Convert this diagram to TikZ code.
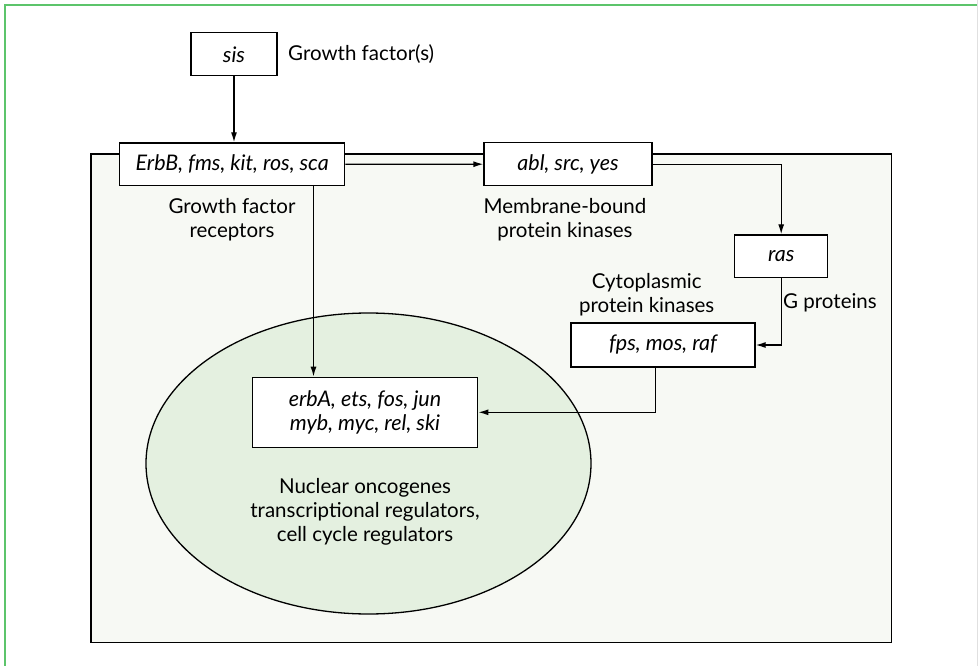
\documentclass[tikz,border=0pt]{standalone}
\usepackage{fontspec}
\setmainfont{Lato}
\usetikzlibrary{shapes.geometric,arrows.meta}
\definecolor{framegreen}{HTML}{5CC46B}
\definecolor{cellfill}{HTML}{F7F9F4}
\definecolor{nucfill}{HTML}{E4F0E0}
\tikzset{
  gene/.style={draw=black,fill=white,line width=1.3pt,inner sep=0pt,font=\fontsize{21.5}{24}\selectfont\itshape,align=center},
  lbl/.style={inner sep=0pt,font=\fontsize{20.5}{24}\selectfont,align=center},
  conn/.style={line width=1.3pt,-{Latex[length=10pt,width=6pt]}},
}
\begin{document}
\begin{tikzpicture}[x=1pt,y=-1pt]
\useasboundingbox (0,0) rectangle (978,666);
% outer frame
\draw[framegreen,line width=2.3pt] (5,670) -- (5,5) -- (980,5);
\draw[black!12,line width=0.8pt] (977.5,0) -- (977.5,666);
% cell
\draw[fill=cellfill,line width=1.3pt] (91,154) rectangle (891.5,642.5);
% nucleus
\node[ellipse,draw,fill=nucfill,line width=1.3pt,minimum width=445pt,minimum height=301pt,inner sep=0pt] (nucleus) at (368.5,463.5) {};
% genes
\node[gene,minimum width=86pt,minimum height=43pt] (sis) at (234,54.3) {sis};
\node[gene,minimum width=225pt,minimum height=42.7pt] (erbb) at (232.2,164.3) {ErbB, fms, kit, ros, sca};
\node[gene,minimum width=168pt,minimum height=43pt] (abl) at (568,164.2) {abl, src, yes};
\node[gene,minimum width=93pt,minimum height=42.7pt] (ras) at (781.2,256.3) {ras};
\node[gene,minimum width=184pt,minimum height=44pt] (fps) at (663,345) {fps, mos, raf};
\node[gene,minimum width=225.4pt,minimum height=70pt] (erba) at (365,412.3) {erbA, ets, fos, jun\\myb, myc, rel, ski};
% labels
\node[lbl,anchor=west] (lgf) at (288,54) {Growth factor(s)};
\node[lbl] (lgfr) at (232,220) {Growth factor\\receptors};
\node[lbl] (lmem) at (565,220) {Membrane-bound\\protein kinases};
\node[lbl] (lcyt) at (646.7,295) {Cytoplasmic\\protein kinases};
\node[lbl,anchor=west] (lgp) at (783,303) {G proteins};
\node[lbl] (lnuc) at (365,512) {Nuclear oncogenes\\transcriptional regulators,\\cell cycle regulators};
% connectors
\coordinate (c1) at (313.5,185);
\coordinate (c2) at (655.7,367);
\draw[conn] (sis.south) -- (sis.south |- erbb.north);
\draw[conn] (erbb.east) -- (abl.west);
\draw[conn] (abl.east) -| (ras.north);
\draw[conn] (ras.south) |- (fps.east);
\draw[conn] (c2) |- (erba.east);
\draw[conn] (c1) -- (c1 |- erba.north);
\end{tikzpicture}
\end{document}
